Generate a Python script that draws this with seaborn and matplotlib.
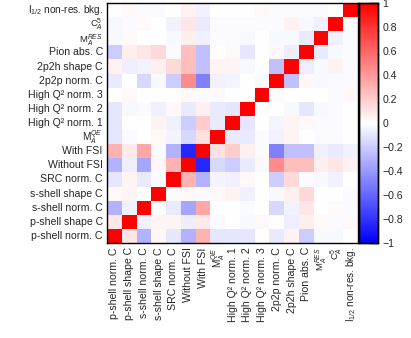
import numpy as np
import pandas as pd
import matplotlib
matplotlib.use("Agg")
import matplotlib.pyplot as plt
import seaborn as sns
from matplotlib.colors import LinearSegmentedColormap
from matplotlib.ticker import FixedLocator, MultipleLocator, FuncFormatter
from matplotlib.transforms import ScaledTranslation

labels = [
    "p-shell norm. C", "p-shell shape C", "s-shell norm. C", "s-shell shape C",
    "SRC norm. C", "Without FSI", "With FSI", r"M$_{A}^{QE}$",
    "High Q\u00b2 norm. 1", "High Q\u00b2 norm. 2", "High Q\u00b2 norm. 3",
    "2p2p norm. C", "2p2h shape C", "Pion abs. C", r"M$_{A}^{RES}$",
    r"C$_{A}^{5}$", r"I$_{1/2}$ non-res. bkg.",
]

# lower-triangle correlations, row i holds columns 0..i-1
r1 = [0.10]
r2 = [-0.30, -0.06]
r3 = [0.03, 0.04, 0.00]
r4 = [-0.10, 0.04, -0.08, -0.02]
r5 = [-0.30, -0.07, -0.35, 0.03, 0.30]
r6 = [0.30, 0.08, 0.35, -0.02, -0.30, -0.85]
r7 = [-0.10, -0.02, 0.00, 0.03, -0.04, -0.15, 0.12]
r8 = [-0.10, 0.00, 0.00, 0.05, -0.06, -0.20, 0.20, -0.08]
r9 = [-0.10, -0.03, -0.02, -0.06, 0.03, -0.08, 0.06, -0.08, -0.10]
r10 = [0.00, 0.03, 0.00, 0.00, 0.00, 0.03, -0.02, -0.02, 0.00, 0.00]
r11 = [-0.08, 0.00, -0.15, -0.03, -0.20, 0.45, -0.50, -0.05, -0.04, 0.00, -0.02]
r12 = [0.05, -0.07, -0.05, 0.06, 0.15, 0.25, -0.25, 0.04, 0.04, -0.03, 0.00, -0.25]
r13 = [-0.20, 0.07, 0.10, 0.15, -0.02, 0.25, -0.25, 0.00, 0.03, -0.10, 0.00, 0.03, -0.07]
r14 = [-0.03, 0.02, 0.00, 0.00, -0.03, 0.07, -0.06, -0.02, -0.02, -0.03, 0.00, -0.03, -0.03, -0.08]
r15 = [-0.03, -0.02, 0.02, 0.00, -0.05, 0.10, -0.08, -0.02, -0.02, -0.02, -0.02, -0.02, 0.05, -0.03, -0.06]
r16 = [0.00, 0.03, -0.02, -0.02, 0.00, 0.05, -0.05, 0.00, 0.00, 0.00, 0.03, -0.02, -0.02, -0.02, -0.02, 0.00]
lower = [r1, r2, r3, r4, r5, r6, r7, r8, r9, r10, r11, r12, r13, r14, r15, r16]

n = len(labels)
M = np.eye(n)
for i, row in enumerate(lower, start=1):
    for j, v in enumerate(row):
        M[i, j] = v
        M[j, i] = v

sns.set_theme(style="white")
plt.rcParams["font.family"] = ["Liberation Sans", "DejaVu Sans"]
plt.rcParams["mathtext.fontset"] = "custom"
plt.rcParams["mathtext.rm"] = "Liberation Sans"
plt.rcParams["mathtext.it"] = "Liberation Sans:italic"
plt.rcParams["mathtext.bf"] = "Liberation Sans:bold"

W, H = 411, 338
fig = plt.figure(figsize=(W / 100, H / 100), dpi=100)
ax = fig.add_axes([107 / W, 95 / H, 251 / W, 240 / H])
cax = fig.add_axes([359 / W, 95 / H, 19 / W, 240 / H])

df = pd.DataFrame(M[::-1], index=labels[::-1], columns=labels)
cmap = LinearSegmentedColormap.from_list("root_bwr", [(0, 0, 1), (1, 1, 1), (1, 0, 0)])
sns.heatmap(df, ax=ax, cbar_ax=cax, cmap=cmap, vmin=-1, vmax=1, linewidths=0)

fs = 7.6
ax.set_xticks(np.arange(n) + 0.5)
ax.set_xticklabels(labels, rotation=90, fontsize=fs)
ax.set_yticks(np.arange(n) + 0.5)
ax.set_yticklabels(labels[::-1], rotation=0, fontsize=fs)
ax.tick_params(which="major", length=0, pad=3)
ax.xaxis.set_minor_locator(FixedLocator(np.arange(1, n)))
ax.yaxis.set_minor_locator(FixedLocator(np.arange(1, n)))
ax.tick_params(which="minor", direction="in", length=5, width=1, color="black",
               top=True, bottom=True, left=True, right=True)
for t in ax.get_xticklabels() + ax.get_yticklabels():
    s = t.get_text()
    if "QE" in s or "1/2" in s:
        t.set_fontsize(7.2)
    elif "RES" in s or "{5}" in s:
        t.set_fontsize(6.8)
for t in ax.get_yticklabels():
    if "RES" in t.get_text():
        t.set_transform(t.get_transform() + ScaledTranslation(0, -2.0 / 100, fig.dpi_scale_trans))
for s in ax.spines.values():
    s.set_visible(True)
    s.set_color("black")
    s.set_linewidth(1.0)

cax.yaxis.set_major_locator(MultipleLocator(0.2))
cax.yaxis.set_minor_locator(MultipleLocator(0.1))
cax.yaxis.set_major_formatter(FuncFormatter(
    lambda v, p: ("%g" % round(v, 2)).replace("-", "\u2212") if abs(v) > 1e-9 else "0"))
cax.tick_params(which="major", direction="in", length=6, width=1, color="black",
                labelsize=fs, pad=3, right=True, left=False)
cax.tick_params(which="minor", direction="in", length=3, width=1, color="black",
                right=True, left=False)
for s in cax.spines.values():
    s.set_visible(True)
    s.set_color("black")
    s.set_linewidth(1.0)

fig.savefig("out.png", dpi=100)
